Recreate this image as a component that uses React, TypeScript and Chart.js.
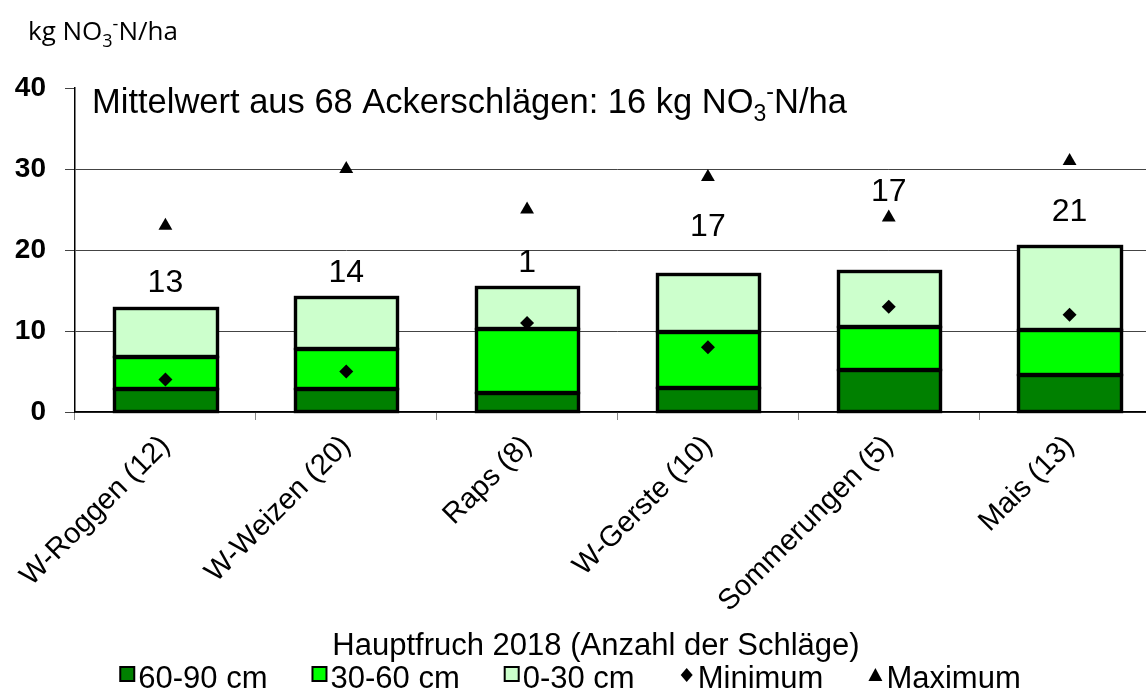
import React, { useEffect, useRef } from 'react';
import { Chart, registerables } from 'chart.js';
Chart.register(...registerables);

const categories = ['W-Roggen (12)', 'W-Weizen (20)', 'Raps (8)', 'W-Gerste (10)', 'Sommerungen (5)', 'Mais (13)'];
const layer60_90 = [2.8, 2.9, 2.35, 3.0, 5.2, 4.6];
const layer30_60 = [4.0, 4.9, 7.9, 6.9, 5.3, 5.5];
const layer0_30 = [6.0, 6.4, 5.15, 7.1, 6.9, 10.4];
const minimum = [4, 5, 11, 8, 13, 12];
const maximum = [23, 30, 25, 29, 24, 31];
const totalLabels = ['13', '14', '1', '17', '17', '21'];
const totalLabelY = [15.9, 17.2, 18.4, 22.8, 27.2, 24.7];
const yMin = 0;
const yMax = 40;
const yStep = 10;

const FONT = '"Liberation Sans", Arial, sans-serif';

type Part = { t: string; size: number; dy: number };
function drawRich(ctx: CanvasRenderingContext2D, parts: Part[], x: number, y: number, family: string) {
  let cx = x;
  ctx.textAlign = 'left';
  ctx.textBaseline = 'alphabetic';
  for (const p of parts) {
    ctx.font = `${p.size}px ${family}`;
    ctx.fillText(p.t, cx, y + p.dy);
    cx += ctx.measureText(p.t).width;
  }
}

const outlinePlugin = {
  id: 'barOutlines',
  afterDatasetDraw(chart: any, args: any) {
    if (args.index !== 0) return;
    const ctx: CanvasRenderingContext2D = chart.ctx;
    ctx.save();
    ctx.strokeStyle = '#000';
    ctx.lineWidth = 3.4;
    ctx.lineJoin = 'miter';
    chart.data.datasets.forEach((d: any, di: number) => {
      if (d.type !== 'bar') return;
      const meta = chart.getDatasetMeta(di);
      meta.data.forEach((el: any) => {
        const p = el.getProps(['x', 'y', 'base', 'width'], true);
        const l = Math.round(p.x - p.width / 2) + 0.5;
        const r = Math.round(p.x + p.width / 2) + 0.5;
        const t = Math.round(p.y) + 0.5;
        const b = Math.round(p.base) - 0.5;
        ctx.strokeRect(l, t, r - l, b - t);
      });
    });
    ctx.restore();
  },
};

const textPlugin = {
  id: 'texts',
  afterDraw(chart: any) {
    const ctx: CanvasRenderingContext2D = chart.ctx;
    const xs = chart.scales.x;
    const ys = chart.scales.y;
    ctx.save();
    ctx.fillStyle = '#000';
    // unit label
    drawRich(ctx, [
      { t: 'kg NO', size: 26, dy: 0 },
      { t: '3', size: 18, dy: 7 },
      { t: '-', size: 18, dy: -10 },
      { t: 'N/ha', size: 26, dy: 0 },
    ], 28, 40, '"Open Sans", sans-serif');
    // title inside plot
    drawRich(ctx, [
      { t: 'Mittelwert aus 68 Ackerschlägen: 16 kg NO', size: 34.5, dy: 0 },
      { t: '3', size: 23, dy: 8 },
      { t: '-', size: 23, dy: -14 },
      { t: 'N/ha', size: 34.5, dy: 0 },
    ], 92, 113, FONT);
    // total labels
    ctx.font = `32px ${FONT}`;
    ctx.textAlign = 'center';
    ctx.textBaseline = 'middle';
    totalLabels.forEach((t, i) => {
      ctx.fillText(t, xs.getPixelForValue(i), ys.getPixelForValue(totalLabelY[i]));
    });
    // x title
    ctx.font = `31px ${FONT}`;
    ctx.textBaseline = 'alphabetic';
    ctx.fillText('Hauptfruch 2018 (Anzahl der Schläge)', 596, 655);
    // legend
    const items = chart.data.datasets.map((d: any) => d);
    ctx.font = `31px ${FONT}`;
    const markerW = 16, markGap = 3, gap = 44;
    const widths = items.map((d: any) => markerW + markGap + ctx.measureText(d.label).width);
    const total = widths.reduce((a: number, b: number) => a + b, 0) + gap * (items.length - 1);
    let lx = 570 - total / 2;
    const ly = 677;
    items.forEach((d: any, i: number) => {
      ctx.save();
      if (d.type === 'line') {
        ctx.fillStyle = '#000';
        ctx.beginPath();
        const cx = lx + markerW / 2, cy = ly - 2;
        if (d.pointStyle === 'rectRot') {
          ctx.moveTo(cx, cy - 7); ctx.lineTo(cx + 6, cy); ctx.lineTo(cx, cy + 7); ctx.lineTo(cx - 6, cy);
        } else {
          ctx.moveTo(cx, cy - 7); ctx.lineTo(cx + 7, cy + 6); ctx.lineTo(cx - 7, cy + 6);
        }
        ctx.closePath();
        ctx.fill();
      } else {
        ctx.fillStyle = d.backgroundColor;
        ctx.fillRect(lx + 1, ly - 10, 14, 14);
        ctx.lineWidth = 2;
        ctx.strokeStyle = '#000';
        ctx.strokeRect(lx + 1, ly - 10, 14, 14);
      }
      ctx.restore();
      ctx.fillStyle = '#000';
      ctx.textAlign = 'left';
      ctx.textBaseline = 'alphabetic';
      ctx.fillText(d.label, lx + markerW + markGap, ly + 11);
      lx += widths[i] + gap;
    });
    ctx.restore();
  },
};

export default function App() {
  const ref = useRef<HTMLCanvasElement | null>(null);
  useEffect(() => {
    if (!ref.current) return;
    const barCommon = {
      type: 'bar' as const,
      borderWidth: 0,
      inflateAmount: 0,
      barPercentage: 0.565,
      categoryPercentage: 1,
      stack: 'bars',
      order: 2,
    };
    const chart = new Chart(ref.current, {
      type: 'bar',
      data: {
        labels: categories,
        datasets: [
          { ...barCommon, label: '60-90 cm', data: layer60_90, backgroundColor: '#008000' },
          { ...barCommon, label: '30-60 cm', data: layer30_60, backgroundColor: '#00FF00' },
          { ...barCommon, label: '0-30 cm', data: layer0_30, backgroundColor: '#CCFFCC' },
          {
            type: 'line', label: 'Minimum', data: minimum, showLine: false, stack: 'min', order: 0,
            pointStyle: 'rectRot', pointRadius: 7, backgroundColor: '#000', borderColor: '#000', borderWidth: 0,
          } as any,
          {
            type: 'line', label: 'Maximum', data: maximum, showLine: false, stack: 'max', order: 0,
            pointStyle: 'triangle', pointRadius: 8, backgroundColor: '#000', borderColor: '#000', borderWidth: 0,
          } as any,
        ],
      },
      options: {
        responsive: false,
        animation: false,
        devicePixelRatio: 1,
        layout: { padding: { left: 0, top: 88, right: 10, bottom: 0 } },
        plugins: { legend: { display: false }, tooltip: { enabled: false } },
        scales: {
          x: {
            stacked: true,
            offset: true,
            grid: { offset: true, drawOnChartArea: false, tickLength: 8, color: '#888' },
            border: { color: '#000', width: 1.5 },
            ticks: {
              autoSkip: false, minRotation: 45, maxRotation: 45, padding: 9,
              color: '#000', font: { family: FONT, size: 29 },
            },
            afterFit: (s: any) => { s.height = 281; },
          },
          y: {
            stacked: true,
            min: yMin, max: yMax,
            grid: {
              color: (c: any) => (c.tick && c.tick.value === yMax ? 'rgba(0,0,0,0)' : '#444'),
              tickColor: '#444', tickLength: 10,
            },
            border: { color: '#000', width: 1.5 },
            ticks: {
              stepSize: yStep, padding: 19, color: '#000',
              font: { family: FONT, size: 28, weight: 'bold' },
            },
            afterFit: (s: any) => { s.width = 75; },
          },
        },
      },
      plugins: [outlinePlugin, textPlugin],
    } as any);
    return () => chart.destroy();
  }, []);
  return (
    <div style={{ position: 'fixed', left: 0, top: 0, width: 1146, height: 693, overflow: 'hidden', background: '#fff' }}>
      <canvas ref={ref} width={1170} height={693} style={{ width: 1170, height: 693, display: 'block' }} />
    </div>
  );
}
